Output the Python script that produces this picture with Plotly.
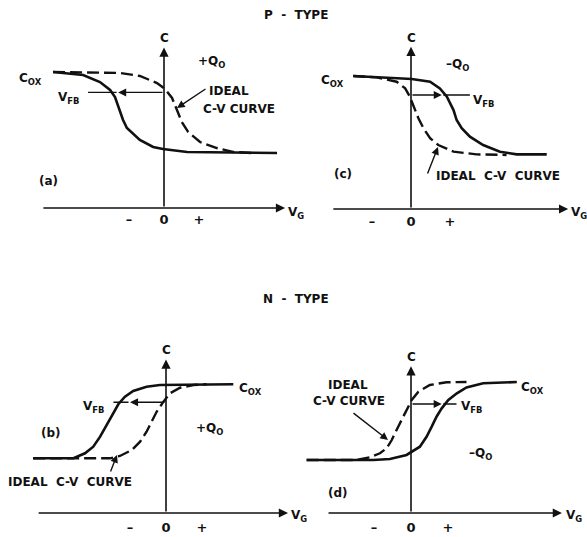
import plotly.graph_objects as go

W, H = 587, 537
INK = "#111111"
FONT = "DejaVu Sans"

# gate voltage in tick units (+ tick = 1), capacitance as C/Cox
# (a) P-type, +Q0
a_real_v = [-3.17, -2.31, -1.83, -1.54, -1.40, -1.26, -1.17, -1.06, -0.91, -0.69, -0.31, -0.03, 0.66, 3.23]
a_real_c = [1.000, 0.978, 0.926, 0.868, 0.816, 0.721, 0.647, 0.588, 0.551, 0.500, 0.449, 0.434, 0.412, 0.404]
a_ideal_v = [-3.17, -1.26, -0.69, -0.20, 0.03, 0.23, 0.37, 0.51, 0.69, 1.03, 1.51, 1.97, 2.54]
a_ideal_c = [1.000, 0.993, 0.971, 0.919, 0.875, 0.809, 0.721, 0.632, 0.559, 0.485, 0.441, 0.412, 0.404]

# (c) P-type, -Q0
c_real_v = [-1.48, 0.02, 0.49, 0.74, 0.92, 1.09, 1.17, 1.30, 1.51, 1.85, 2.28, 2.71, 3.48]
c_real_c = [1.000, 0.977, 0.957, 0.907, 0.845, 0.744, 0.669, 0.607, 0.544, 0.481, 0.431, 0.411, 0.411]
c_ideal_v = [-1.48, -0.88, -0.37, -0.15, -0.03, 0.08, 0.19, 0.32, 0.49, 0.70, 1.09, 1.68, 2.45]
c_ideal_c = [1.000, 0.990, 0.957, 0.907, 0.845, 0.769, 0.682, 0.607, 0.532, 0.481, 0.431, 0.411, 0.406]

# (b) N-type, +Q0
b_real_v = [-3.69, -2.57, -2.25, -2.02, -1.83, -1.65, -1.46, -1.32, -1.14, -0.91, -0.54, -0.17, 1.87]
b_real_c = [0.424, 0.424, 0.463, 0.514, 0.592, 0.682, 0.785, 0.845, 0.902, 0.946, 0.979, 0.992, 0.998]
b_ideal_v = [-3.69, -1.56, -1.28, -0.95, -0.72, -0.54, -0.40, -0.26, -0.07, 0.11, 0.39, 0.76, 1.13]
b_ideal_c = [0.424, 0.424, 0.442, 0.488, 0.553, 0.630, 0.708, 0.785, 0.863, 0.928, 0.971, 0.992, 0.998]

# (d) N-type, -Q0
d_real_v = [-2.82, -1.02, -0.57, -0.12, 0.24, 0.42, 0.56, 0.69, 0.83, 1.01, 1.24, 1.50, 1.95, 2.86]
d_real_c = [0.405, 0.405, 0.412, 0.443, 0.506, 0.582, 0.659, 0.735, 0.799, 0.863, 0.914, 0.959, 0.990, 1.000]
d_ideal_v = [-2.82, -1.47, -1.11, -0.84, -0.66, -0.52, -0.39, -0.25, -0.12, 0.02, 0.20, 0.51, 0.96, 1.50]
d_ideal_c = [0.405, 0.405, 0.425, 0.456, 0.494, 0.557, 0.634, 0.710, 0.786, 0.863, 0.926, 0.977, 0.998, 1.000]

tick_vals = [-1, 0, 1]
tick_text = ["\u2013", "0", "+"]

# flat-band marker: C level, arrow tip, far end of line
vfb = {"a": (0.85, -1.31, -2.17), "c": (0.857, 0.79, 1.51),
       "b": (0.858, -1.0, -1.46), "d": (0.832, 0.83, 1.23)}

# panel geometry: origin px, px per unit, domain box px, axis extents (data units)
panels = {
    "a": dict(ox=164, oy=208, sx=35, sy=136, x0=0, x1=292, top=25, h=(-3.49, 3.46), v=1.18, idx=1, stand=2),
    "c": dict(ox=411, oy=209, sx=39, sy=133, x0=296, x1=587, top=25, h=(-2.03, 4.03), v=1.22, idx=2, stand=3),
    "b": dict(ox=166, oy=513, sx=36, sy=129, x0=0, x1=292, top=335, h=(-3.58, 3.39), v=1.19, idx=3, stand=5),
    "d": dict(ox=411, oy=513, sx=37, sy=131, x0=296, x1=587, top=335, h=(-2.27, 4.08), v=1.12, idx=4, stand=5),
}
curves = {
    "a": (a_real_v, a_real_c, a_ideal_v, a_ideal_c),
    "c": (c_real_v, c_real_c, c_ideal_v, c_ideal_c),
    "b": (b_real_v, b_real_c, b_ideal_v, b_ideal_c),
    "d": (d_real_v, d_real_c, d_ideal_v, d_ideal_c),
}

fig = go.Figure()
layout = {}
annotations = []


def arrow(xr, yr, x, y, ax, ay, head=2, size=1.15, width=1.6):
    annotations.append(dict(xref=xr, yref=yr, axref=xr, ayref=yr, x=x, y=y, ax=ax, ay=ay,
                            text="", showarrow=True, arrowhead=head, arrowsize=size,
                            arrowwidth=width, arrowcolor=INK, standoff=0))


for key, p in panels.items():
    i = p["idx"]
    xn = "x" if i == 1 else f"x{i}"
    yn = "y" if i == 1 else f"y{i}"
    rv, rc, iv, ic = curves[key]
    fig.add_trace(go.Scatter(x=iv, y=ic, mode="lines", xaxis=xn, yaxis=yn,
                             line=dict(color=INK, width=2.4, dash="12px,5px"),
                             hoverinfo="skip", showlegend=False))
    fig.add_trace(go.Scatter(x=rv, y=rc, mode="lines", xaxis=xn, yaxis=yn,
                             line=dict(color=INK, width=2.6), hoverinfo="skip", showlegend=False))

    xr = [(p["x0"] - p["ox"]) / p["sx"], (p["x1"] - p["ox"]) / p["sx"]]
    yr = [0, (p["oy"] - p["top"]) / p["sy"]]
    layout["xaxis" if i == 1 else f"xaxis{i}"] = dict(
        domain=[p["x0"] / W, p["x1"] / W], range=xr, anchor=yn, fixedrange=True,
        showgrid=False, zeroline=False, showline=False, ticks="",
        tickvals=tick_vals, ticktext=tick_text, ticklabelstandoff=p["stand"],
        tickfont=dict(family=FONT, size=13, color=INK, weight="bold"))
    layout["yaxis" if i == 1 else f"yaxis{i}"] = dict(
        domain=[1 - p["oy"] / H, 1 - p["top"] / H], range=yr, anchor=xn, fixedrange=True,
        showgrid=False, zeroline=False, showline=False, showticklabels=False, ticks="")

    # axes with arrowheads
    arrow(xn, yn, p["h"][1], 0, p["h"][0], 0)
    arrow(xn, yn, 0, p["v"], 0, 0)
    # flat-band shift arrow and its leader line
    lvl, tip, end = vfb[key]
    arrow(xn, yn, tip, lvl, 0, lvl, width=1.4)
    arrow(xn, yn, end, lvl, tip, lvl, head=0, width=1.4)

# pointer arrows to the ideal curve, head px and tail px
pointers = [((177, 108), (207, 88)), ((438, 147), (427, 175)),
            ((117, 455), (110, 473)), ((388, 440), (352, 412))]
for (hx, hy), (tx, ty) in pointers:
    annotations.append(dict(xref="paper", yref="paper", x=hx / W, y=1 - hy / H,
                            ax=tx - hx, ay=ty - hy, text="", showarrow=True,
                            arrowhead=2, arrowsize=1.1, arrowwidth=1.4, arrowcolor=INK, standoff=0))

# text labels: text, x px, y px, xanchor
sp = "\u00a0\u00a0"
labels = [
    ("P" + sp + "-" + sp + "TYPE", 296, 15, "center"),
    ("N" + sp + "-" + sp + "TYPE", 296, 299, "center"),
    # (a)
    ("C<sub>OX</sub>", 44, 79, "right"),
    ("V<sub>FB</sub>", 56, 98, "left"),
    ("+Q<sub>O</sub>", 196, 62, "left"),
    ("IDEAL", 207, 91, "left"),
    ("C-V CURVE", 201, 109, "left"),
    ("(a)", 48, 181, "center"),
    ("C", 164, 38, "center"),
    ("V<sub>G</sub>", 286, 213, "left"),
    # (c)
    ("C<sub>OX</sub>", 346, 81, "right"),
    ("V<sub>FB</sub>", 471, 101, "left"),
    ("\u2013Q<sub>O</sub>", 444, 65, "left"),
    ("IDEAL" + sp + "C-V" + sp + "CURVE", 434, 176, "left"),
    ("(c)", 343, 174, "center"),
    ("C", 411, 38, "center"),
    ("V<sub>G</sub>", 569, 213, "left"),
    # (b)
    ("C<sub>OX</sub>", 237, 389, "left"),
    ("V<sub>FB</sub>", 81, 407, "left"),
    ("+Q<sub>O</sub>", 194, 429, "left"),
    ("(b)", 51, 433, "center"),
    ("IDEAL" + sp + "C-V" + sp + "CURVE", 6, 482, "left"),
    ("C", 166, 350, "center"),
    ("V<sub>G</sub>", 289, 516, "left"),
    # (d)
    ("C<sub>OX</sub>", 519, 388, "left"),
    ("V<sub>FB</sub>", 459, 407, "left"),
    ("\u2013Q<sub>O</sub>", 467, 454, "left"),
    ("(d)", 338, 493, "center"),
    ("IDEAL", 348, 385, "center"),
    ("C-V CURVE", 349, 401, "center"),
    ("C", 411, 357, "center"),
    ("V<sub>G</sub>", 564, 516, "left"),
]
for text, x, y, anchor in labels:
    annotations.append(dict(xref="paper", yref="paper", x=x / W, y=1 - y / H, text=text,
                            showarrow=False, xanchor=anchor, yanchor="middle",
                            font=dict(family=FONT, size=12, color=INK, weight="bold")))

fig.update_layout(
    width=W, height=H, margin=dict(l=0, r=0, t=0, b=0),
    paper_bgcolor="white", plot_bgcolor="white",
    annotations=annotations, **layout,
)
fig.write_html("out.html", config={"displayModeBar": False},
               post_script="document.body.style.margin='0';document.body.style.overflow='hidden';")
